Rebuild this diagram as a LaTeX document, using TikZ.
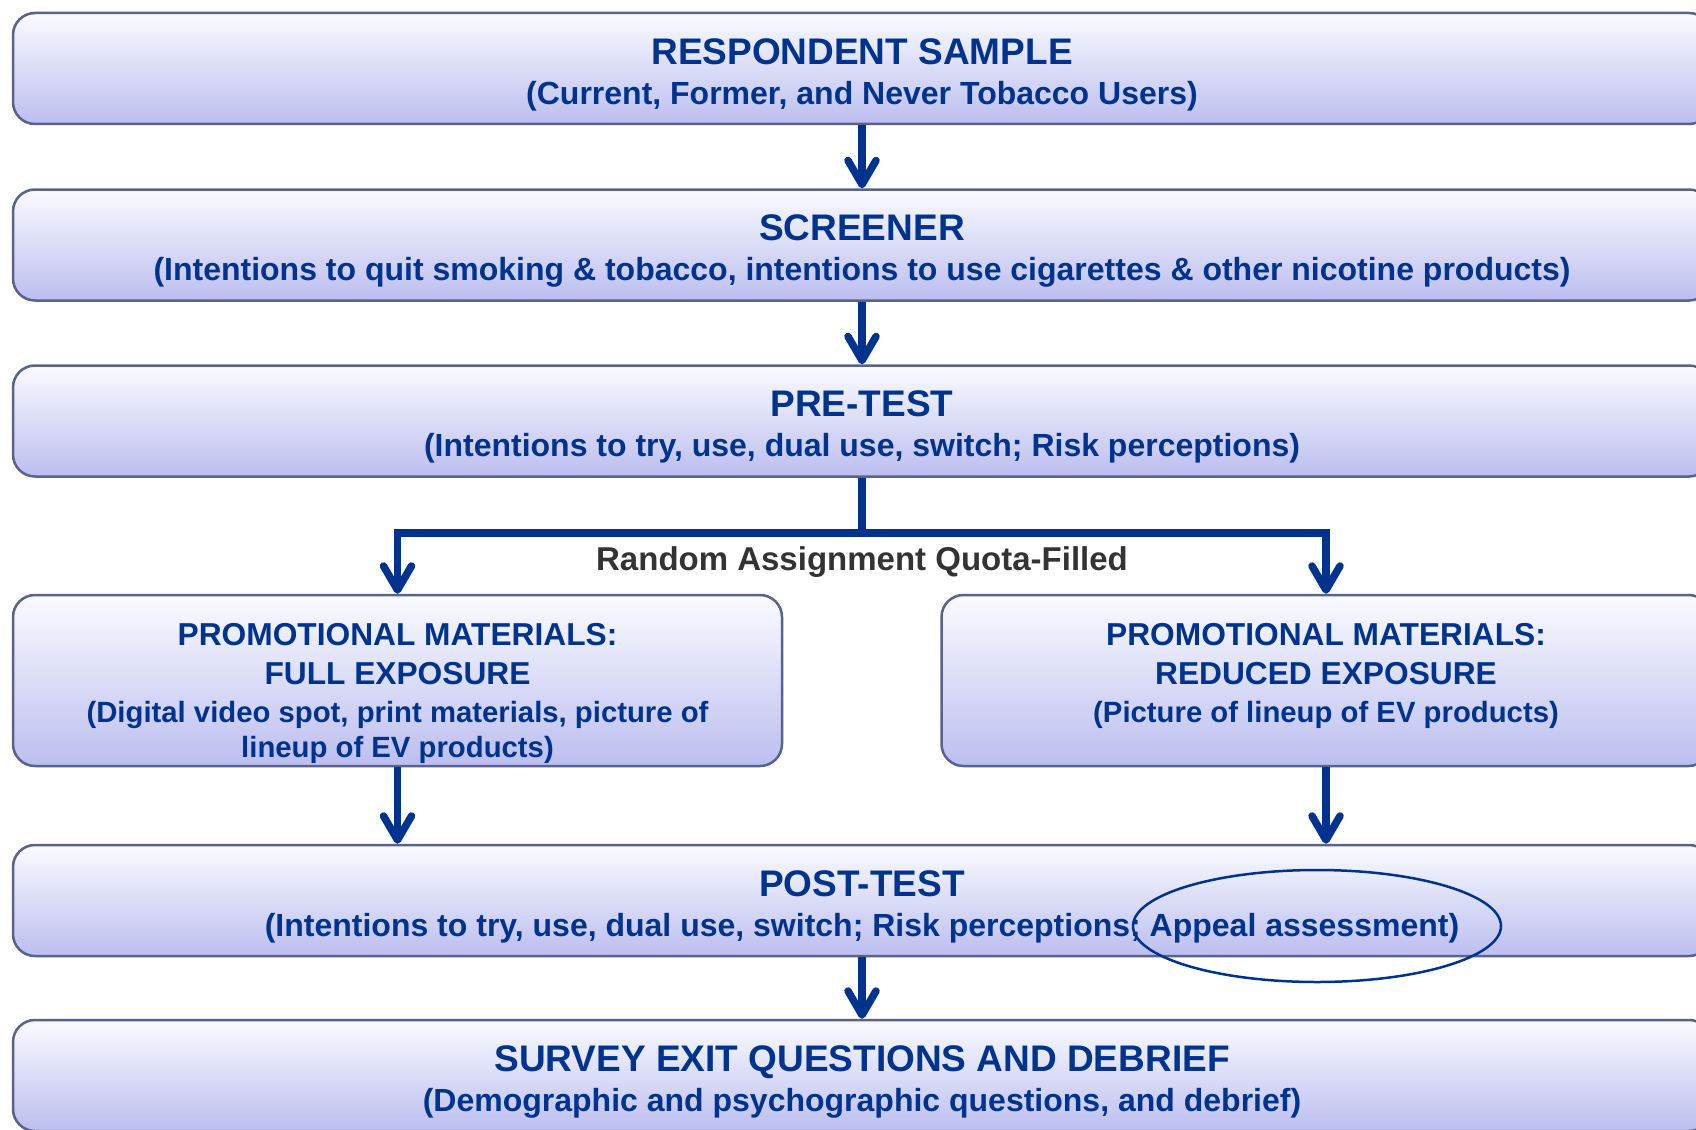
\documentclass[tikz,border=0pt]{standalone}
\usepackage{fontspec}
\setmainfont{Liberation Sans}
\usetikzlibrary{arrows.meta}
\definecolor{flowblue}{RGB}{0,51,141}
\definecolor{labelgray}{RGB}{51,51,51}
\definecolor{boxtop}{RGB}{250,251,255}
\definecolor{boxbottom}{RGB}{188,190,240}
\definecolor{boxline}{RGB}{88,98,138}
\tikzset{
  stagebox/.style={draw=boxline, line width=2.5pt, rounded corners=22pt,
    top color=boxtop, bottom color=boxbottom, text=flowblue, align=center,
    font=\bfseries\fontsize{32}{40}\selectfont, inner sep=0pt},
  widebox/.style={stagebox, minimum width=1698pt, minimum height=111pt},
  armbox/.style={stagebox, minimum width=769pt, minimum height=171pt,
    font=\bfseries\fontsize{29.3}{36}\selectfont},
  flow/.style={flowblue, line width=7.5pt,
    -{Straight Barb[length=24pt, width=28pt, round]}}
}
\newcommand{\stagetitle}[1]{{\fontsize{37}{40}\selectfont\rule{0pt}{38pt}#1}}
\newcommand{\armtitle}[1]{{\fontsize{31.7}{38}\selectfont #1}}
\begin{document}
\begin{tikzpicture}[x=1pt, y=-1pt]
  \useasboundingbox (0,0) rectangle (1696,1129);
  \clip (0,0) rectangle (1696,1129);
  % stages
  \node[widebox] (sample) at (862,68.5)
    {\stagetitle{RESPONDENT SAMPLE}\\(Current, Former, and Never Tobacco Users)};
  \node[widebox] (screener) at (862,245)
    {\stagetitle{SCREENER}\\(Intentions to quit smoking \& tobacco, intentions to use cigarettes \& other nicotine products)};
  \node[widebox] (pretest) at (862,421)
    {\stagetitle{PRE-TEST}\\(Intentions to try, use, dual use, switch; Risk perceptions)};
  \node[armbox] (fullexp) at (397.5,680.5)
    {\rule{0pt}{48pt}\armtitle{PROMOTIONAL MATERIALS:}\\[3pt]\armtitle{FULL EXPOSURE}\\[2pt]
     (Digital video spot, print materials, picture of\\[-1pt]lineup of EV products)};
  \node[armbox] (redexp) at (1326,680.5)
    {\rule{0pt}{48pt}\armtitle{PROMOTIONAL MATERIALS:}\\[3pt]\armtitle{REDUCED EXPOSURE}\\[2pt]
     (Picture of lineup of EV products)\\[-1pt]\rule[-6pt]{0pt}{6pt}};
  \node[widebox] (posttest) at (862,900.5)
    {\stagetitle{POST-TEST}\\(Intentions to try, use, dual use, switch; Risk perceptions; Appeal assessment)};
  \node[widebox] (exit) at (862,1075.5)
    {\stagetitle{SURVEY EXIT QUESTIONS AND DEBRIEF}\\(Demographic and psychographic questions, and debrief)};
  \node[text=labelgray, font=\bfseries\fontsize{33}{36}\selectfont] (assign) at (862,562)
    {Random Assignment Quota-Filled};
  % arrows
  \coordinate (split) at (862,533);
  \draw[flow] (sample) -- (screener);
  \draw[flow] (screener) -- (pretest);
  \draw[flow] (pretest.south) -- (split) -| (fullexp.north);
  \draw[flow] (split) -| (redexp.north);
  \draw[flow] (fullexp.south) -- (fullexp.south |- posttest.north);
  \draw[flow] (redexp.south) -- (redexp.south |- posttest.north);
  \draw[flow] (posttest) -- (exit);
  % mark
  \draw[flowblue, line width=2.5pt] (1317,926) ellipse [x radius=184, y radius=56];
\end{tikzpicture}
\end{document}
